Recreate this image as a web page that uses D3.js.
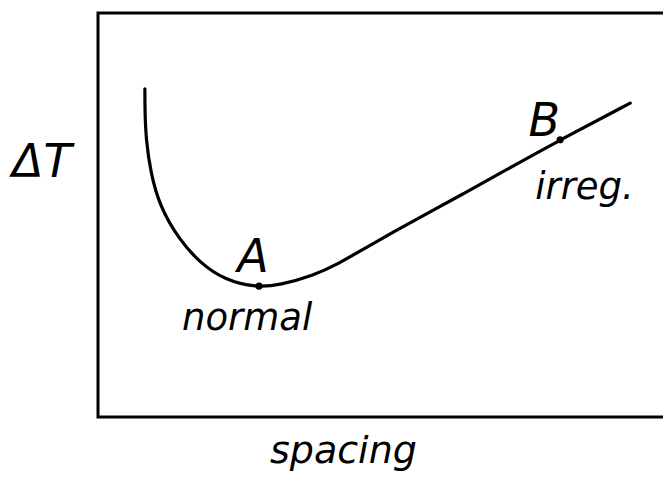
<!DOCTYPE html>
<html>
<head>
<meta charset="utf-8">
<script src="https://cdn.jsdelivr.net/npm/d3@7"></script>
<style>
  body { margin: 0; background: #fff; }
  text { font-family: "DejaVu Sans", sans-serif; font-style: italic; fill: #000; }
</style>
</head>
<body>
<div id="chart"></div>
<script>
// sketch curve: spacing (x) vs delta T (y), arbitrary units 0-100
var spacing = [8.3, 8.3, 8.5, 9.3, 10.9, 14.3, 18.1, 22.3, 28.1, 32.2, 38.1, 42.5, 47.0, 52.9, 58.8, 64.6, 70.2, 81.8, 94.2];
var deltaT  = [81.2, 76.0, 68.6, 60.6, 52.2, 44.0, 38.1, 34.0, 32.0, 32.7, 35.0, 37.9, 41.6, 46.3, 50.8, 55.2, 59.6, 68.6, 77.7];

// marked points
var pointNames = ["A", "B"];
var pointLabels = ["normal", "irreg."];
var pointX = [28.5, 81.8];
var pointY = [32.4, 68.6];

var xLabel = "spacing";
var yLabel = "\u0394T";

var width = 663, height = 477;
var margin = { top: 13, right: 0, bottom: 60, left: 98 };

var svg = d3.select("#chart")
  .append("svg")
  .attr("width", width)
  .attr("height", height);

var x = d3.scaleLinear()
  .domain([0, 100])
  .range([margin.left, width - margin.right]);

var y = d3.scaleLinear()
  .domain([0, 100])
  .range([height - margin.bottom, margin.top]);

// frame: top, left and bottom edges (right side runs off the page)
svg.append("path")
  .attr("d", "M" + x(100) + "," + y(100) + "H" + x(0) + "V" + y(0) + "H" + x(100))
  .attr("stroke", "#000")
  .attr("stroke-width", 3)
  .attr("fill", "none");

// the curve
var line = d3.line()
  .x(function (d) { return x(d[0]); })
  .y(function (d) { return y(d[1]); })
  .curve(d3.curveBasis);

svg.append("path")
  .datum(d3.zip(spacing, deltaT))
  .attr("d", line)
  .attr("fill", "none")
  .attr("stroke", "#000")
  .attr("stroke-width", 3.2)
  .attr("stroke-linecap", "round");

// points A and B
var pts = pointNames.map(function (n, i) {
  return { name: n, label: pointLabels[i], x: pointX[i], y: pointY[i] };
});

svg.selectAll("circle.pt")
  .data(pts)
  .enter()
  .append("circle")
  .attr("class", "pt")
  .attr("cx", function (d) { return x(d.x); })
  .attr("cy", function (d) { return y(d.y); })
  .attr("r", 3.6)
  .attr("fill", "#000");

// letter above each point, word below
var nameOffset = { A: [-6, -14, "middle"], B: [0, -4, "end"] };
var labelOffset = { A: [-77, 44], B: [-25, 59] };

svg.selectAll("text.name")
  .data(pts)
  .enter()
  .append("text")
  .attr("class", "name")
  .attr("x", function (d) { return x(d.x) + nameOffset[d.name][0]; })
  .attr("y", function (d) { return y(d.y) + nameOffset[d.name][1]; })
  .attr("text-anchor", function (d) { return nameOffset[d.name][2]; })
  .style("font-size", "46px")
  .text(function (d) { return d.name; });

svg.selectAll("text.word")
  .data(pts)
  .enter()
  .append("text")
  .attr("class", "word")
  .attr("x", function (d) { return x(d.x) + labelOffset[d.name][0]; })
  .attr("y", function (d) { return y(d.y) + labelOffset[d.name][1]; })
  .style("font-size", "37px")
  .text(function (d) { return d.label; });

// axis titles
svg.append("text")
  .attr("x", 12)
  .attr("y", 177)
  .style("font-size", "46px")
  .text(yLabel);

svg.append("text")
  .attr("x", 270)
  .attr("y", 463)
  .style("font-size", "38px")
  .text(xLabel);
</script>
</body>
</html>
